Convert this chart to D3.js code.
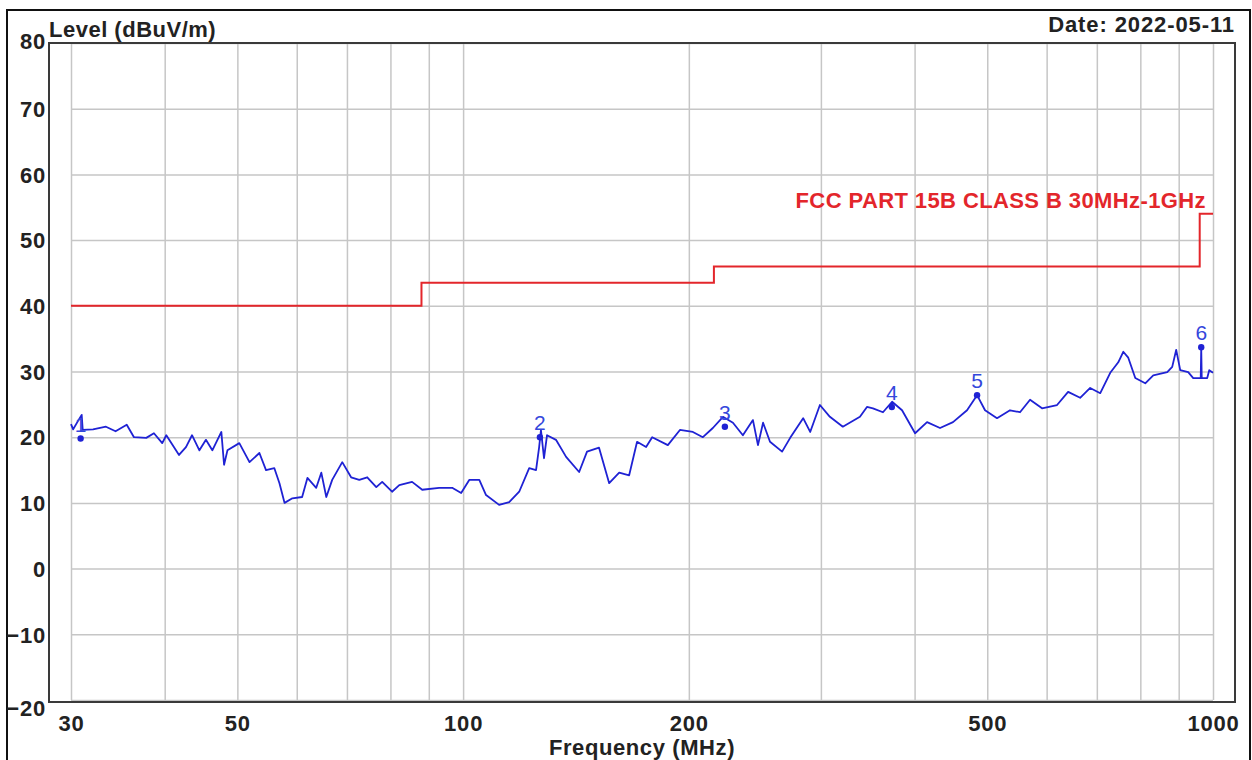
<!DOCTYPE html>
<html>
<head>
<meta charset="utf-8">
<script src="https://cdn.jsdelivr.net/npm/d3@7"></script>
<style>
  body { margin: 0; background: #fff; }
  text { font-family: "Liberation Sans", Arial, sans-serif; }
</style>
</head>
<body>
<div id="chart"></div>
<script>
// axis values
var freqLabels = [30, 50, 100, 200, 500, 1000];
var freqGrid = [30, 40, 50, 60, 70, 80, 90, 100, 200, 300, 400, 500, 600, 700, 800, 900, 1000];
var levelTicks = [80, 70, 60, 50, 40, 30, 20, 10, 0, -10, -20];

// FCC limit (step line)
var limitFreq = [30, 88, 216, 960, 1000];
var limitLevel = [40, 43.5, 46, 54, 54];

var traceFreq = [30.0, 30.2, 30.7, 31.0, 31.1, 32.1, 33.4, 34.4, 35.6, 36.4, 37.8, 38.7, 39.7, 40.2,
  41.8, 42.7, 43.5, 44.5, 45.4, 46.3, 47.6, 48.0, 48.5, 50.3, 51.9, 53.5, 54.6, 56.0, 56.9, 57.8,
  59.2, 61.0, 62.0, 63.7, 64.7, 65.7, 66.9, 69.0, 70.9, 72.7, 74.5, 76.6, 78.0, 80.4, 82.2, 85.5,
  88.2, 92.9, 96.7, 99.4, 101.9, 105.1, 107.3, 111.7, 115.2, 118.8, 122.5, 125.1, 126.3, 127.0,
  128.2, 129.4, 133.0, 137.2, 142.8, 146.3, 151.8, 156.6, 161.5, 166.5, 170.6, 175.4, 178.7,
  187.5, 194.6, 202.5, 208.8, 215.3, 222.1, 229.0, 236.1, 243.5, 247.3, 251.2, 256.6, 266.3,
  273.0, 284.1, 290.3, 299.1, 308.4, 320.9, 338.2, 345.6, 352.0, 363.0, 373.3, 384.9, 400.6,
  415.6, 432.5, 450.1, 469.9, 484.6, 496.6, 515.2, 536.2, 552.9, 570.2, 591.6, 619.5, 640.9,
  665.0, 685.8, 707.4, 729.4, 747.6, 759.2, 770.9, 787.7, 812.2, 832.4, 868.9, 882.3, 893.2,
  904.3, 926.7, 941.1, 958.6, 963.0, 964.5, 966.0, 982.4, 988.5, 1000];
var traceLevel = [22.0, 21.2, 22.6, 23.4, 21.1, 21.2, 21.6, 20.9, 21.9, 20.0, 19.9, 20.6, 19.1, 20.3,
  17.3, 18.5, 20.3, 18.0, 19.6, 18.0, 20.8, 15.8, 18.0, 19.1, 16.2, 17.6, 15.0, 15.3, 13.0, 10.0,
  10.7, 10.9, 13.8, 12.3, 14.6, 10.9, 13.5, 16.2, 13.9, 13.5, 13.9, 12.4, 13.2, 11.7, 12.7, 13.2,
  12.0, 12.3, 12.3, 11.5, 13.5, 13.5, 11.2, 9.7, 10.1, 11.7, 15.3, 15.0, 18.5, 21.1,
  16.8, 20.3, 19.6, 17.0, 14.7, 17.8, 18.4, 13.0, 14.6, 14.2, 19.3, 18.5, 20.0,
  18.8, 21.1, 20.8, 20.0, 21.4, 23.1, 22.2, 20.3, 22.6, 18.8, 22.2, 19.3, 17.8,
  19.9, 22.9, 20.8, 24.9, 23.1, 21.6, 23.1, 24.6, 24.4, 23.8, 25.4, 24.1, 20.6,
  22.3, 21.4, 22.3, 24.1, 26.4, 24.1, 22.9, 24.1, 23.8, 25.7, 24.4, 24.9, 26.9,
  26.0, 27.5, 26.7, 29.8, 31.4, 33.0, 32.1, 29.0, 28.2, 29.4, 29.9, 30.7, 33.3,
  30.2, 29.9, 29.0, 29.0, 29.0, 33.6, 29.0, 29.0, 30.2, 29.8];

// marked peaks
var markerNo = [1, 2, 3, 4, 5, 6];
var markerFreq = [30.9, 126.6, 223.4, 373.0, 484.6, 964.5];
var markerLevel = [19.8, 20.0, 21.6, 24.6, 26.4, 33.7];

var w = 1252, h = 760;
var blue = "#1f22d4", red = "#e3262b";

var svg = d3.select("#chart").append("svg")
  .attr("width", w)
  .attr("height", h);

var x = d3.scaleLog().domain([30, 1000]).range([71, 1213]);
var y = d3.scaleLinear().domain([-20, 80]).range([700, 43]);

// outer frame
svg.append("rect")
  .attr("x", 7).attr("y", 10)
  .attr("width", 1243).attr("height", 770)
  .attr("fill", "none")
  .attr("stroke", "#111")
  .attr("stroke-width", 2);

// vertical grid
svg.append("g")
  .attr("transform", "translate(0,700)")
  .call(d3.axisBottom(x).tickValues(freqGrid).tickSize(-657).tickFormat(""))
  .call(function (g) {
    g.select(".domain").remove();
    g.selectAll("line").attr("stroke", "#c6c6c6").attr("stroke-width", 1.5);
  });

// horizontal grid
svg.append("g")
  .attr("transform", "translate(71,0)")
  .call(d3.axisLeft(y).tickValues(levelTicks).tickSize(-1142).tickFormat(""))
  .call(function (g) {
    g.select(".domain").remove();
    g.selectAll("line").attr("stroke", "#c6c6c6").attr("stroke-width", 1.5);
  });

// plot frame
svg.append("rect")
  .attr("x", 49).attr("y", 43)
  .attr("width", 1186).attr("height", 659)
  .attr("fill", "none")
  .attr("stroke", "#3a3a3a")
  .attr("stroke-width", 2);

// y labels
svg.append("g")
  .attr("transform", "translate(49,0)")
  .call(d3.axisLeft(y).tickValues(levelTicks).tickSize(0).tickPadding(3))
  .call(function (g) {
    g.select(".domain").remove();
    g.selectAll("text")
      .attr("font-family", null)
      .attr("font-size", 22)
      .attr("font-weight", "bold")
      .attr("letter-spacing", 0.8)
      .attr("fill", "#222")
      .attr("dy", function (d) {
        return d === -20 ? "0.7em" : (d === 80 ? "0.25em" : "0.35em");
      });
  });

// x labels
svg.append("g")
  .attr("transform", "translate(0,702)")
  .call(d3.axisBottom(x).tickValues(freqLabels).tickSize(0).tickPadding(13).tickFormat(d3.format("d")))
  .call(function (g) {
    g.select(".domain").remove();
    g.selectAll("text")
      .attr("font-family", null)
      .attr("font-size", 22)
      .attr("font-weight", "bold")
      .attr("letter-spacing", 0.8)
      .attr("fill", "#222");
  });

// titles
svg.append("text")
  .attr("x", 49).attr("y", 37)
  .attr("font-size", 22).attr("font-weight", "bold").attr("fill", "#222")
  .attr("letter-spacing", 0.5)
  .text("Level (dBuV/m)");

svg.append("text")
  .attr("x", 1235).attr("y", 32)
  .attr("text-anchor", "end")
  .attr("font-size", 22).attr("font-weight", "bold").attr("fill", "#222")
  .attr("letter-spacing", 0.9)
  .text("Date: 2022-05-11");

svg.append("text")
  .attr("x", 642).attr("y", 755)
  .attr("text-anchor", "middle")
  .attr("font-size", 22).attr("font-weight", "bold").attr("fill", "#222")
  .attr("letter-spacing", 0.6)
  .text("Frequency (MHz)");

// limit line
var limit = limitFreq.map(function (f, i) { return [f, limitLevel[i]]; });
svg.append("path")
  .datum(limit)
  .attr("fill", "none")
  .attr("stroke", red)
  .attr("stroke-width", 2)
  .attr("d", d3.line()
    .x(function (d) { return x(d[0]); })
    .y(function (d) { return y(d[1]); })
    .curve(d3.curveStepAfter));

svg.append("text")
  .attr("x", 1206).attr("y", 208)
  .attr("text-anchor", "end")
  .attr("font-size", 22).attr("font-weight", "bold").attr("fill", red)
  .attr("letter-spacing", 0.4)
  .text("FCC PART 15B CLASS B 30MHz-1GHz");

// trace
var trace = traceFreq.map(function (f, i) { return [f, traceLevel[i]]; });
svg.append("path")
  .datum(trace)
  .attr("fill", "none")
  .attr("stroke", blue)
  .attr("stroke-width", 1.8)
  .attr("stroke-linejoin", "round")
  .attr("d", d3.line()
    .x(function (d) { return x(d[0]); })
    .y(function (d) { return y(d[1]); }));

// markers
var markers = markerNo.map(function (n, i) { return {n: n, f: markerFreq[i], v: markerLevel[i]}; });
var mk = svg.append("g").selectAll("g")
  .data(markers)
  .enter().append("g");

mk.append("circle")
  .attr("cx", function (d) { return x(d.f); })
  .attr("cy", function (d) { return y(d.v); })
  .attr("r", 3.2)
  .attr("fill", blue);

mk.append("text")
  .attr("x", function (d) { return x(d.f); })
  .attr("y", function (d) { return y(d.v) - 7; })
  .attr("text-anchor", "middle")
  .attr("font-size", 21)
  .attr("fill", "#3447dc")
  .text(function (d) { return d.n; });
</script>
</body>
</html>
